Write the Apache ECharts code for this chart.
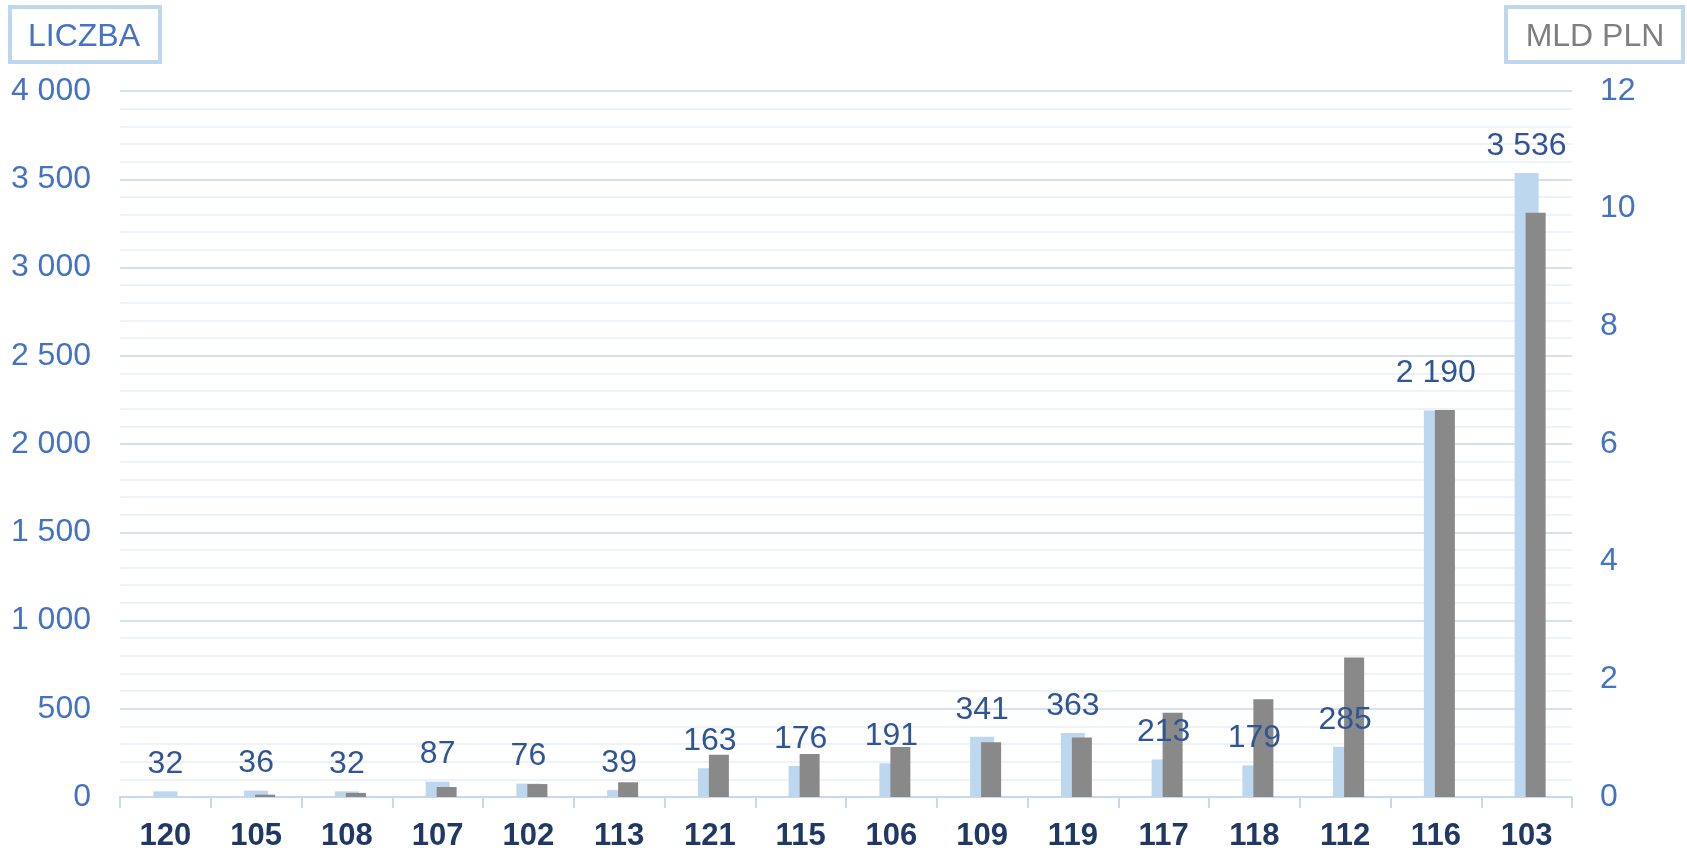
<!DOCTYPE html>
<html>
<head>
<meta charset="utf-8">
<script src="https://cdn.jsdelivr.net/npm/echarts@6/dist/echarts.min.js"></script>
<style>
  html, body { margin: 0; padding: 0; background: #fff; }
  #chart { width: 1687px; height: 848px; }
</style>
</head>
<body>
<div id="chart"></div>
<script>
// kategorie (kody)
const categories = ['120', '105', '108', '107', '102', '113', '121', '115', '106', '109', '119', '117', '118', '112', '116', '103'];
// liczba - lewa os
const counts = [32, 36, 32, 87, 76, 39, 163, 176, 191, 341, 363, 213, 179, 285, 2190, 3536];
// mld pln - prawa os
const amounts = [0, 0.04, 0.07, 0.17, 0.22, 0.25, 0.72, 0.73, 0.85, 0.93, 1.01, 1.43, 1.66, 2.37, 6.58, 9.93];

const FONT = 'Liberation Sans, Arial, sans-serif';

function fmt(v) {
  return String(v).replace(/\B(?=(\d{3})+(?!\d))/g, ' ');
}

const chart = echarts.init(document.getElementById('chart'));

const option = {
  animation: false,
  textStyle: { fontFamily: FONT },
  grid: [
    { left: 120, top: 91, width: 1452, height: 706, outerBoundsMode: 'none', containLabel: false },
    // druga siatka przesunieta, zeby szare slupki byly obok jasnych
    { left: 129, top: 91, width: 1452, height: 706, outerBoundsMode: 'none', containLabel: false }
  ],
  xAxis: [
    {
      type: 'category',
      gridIndex: 0,
      data: categories,
      axisLine: { lineStyle: { color: '#c9d8ef', width: 2 } },
      axisTick: { show: true, length: 11, lineStyle: { color: '#c9d8ef', width: 2 } },
      axisLabel: { color: '#1f3864', fontSize: 31, fontWeight: 'bold', fontFamily: FONT, margin: 24 }
    },
    {
      type: 'category',
      gridIndex: 1,
      data: categories,
      show: false
    }
  ],
  yAxis: [
    {
      type: 'value',
      gridIndex: 0,
      min: 0,
      max: 4000,
      interval: 500,
      axisLine: { show: false },
      axisTick: { show: false },
      axisLabel: { color: '#4472c4', fontSize: 32, fontFamily: FONT, margin: 29, formatter: fmt },
      splitLine: { lineStyle: { color: '#d5e0f2', width: 2 } },
      minorTick: { show: false, splitNumber: 5 },
      minorSplitLine: { show: true, lineStyle: { color: '#eef3fa', width: 2 } }
    },
    {
      type: 'value',
      gridIndex: 1,
      position: 'right',
      min: 0,
      max: 12,
      interval: 2,
      axisLine: { show: false },
      axisTick: { show: false },
      splitLine: { show: false },
      axisLabel: { color: '#4472c4', fontSize: 32, fontFamily: FONT, margin: 19 }
    }
  ],
  series: [
    {
      name: 'LICZBA',
      type: 'bar',
      xAxisIndex: 0,
      yAxisIndex: 0,
      barWidth: 24,
      itemStyle: { color: '#bdd7ee' },
      label: {
        show: true,
        position: 'top',
        distance: 11,
        color: '#2f5597',
        fontSize: 32,
        fontFamily: FONT,
        formatter: p => fmt(p.value)
      },
      data: counts.map((v, i) => i === 14 ? { value: v, label: { distance: 21 } } : v)
    },
    {
      name: 'MLD PLN',
      type: 'bar',
      xAxisIndex: 1,
      yAxisIndex: 1,
      barWidth: 20,
      itemStyle: { color: '#898989' },
      data: amounts
    }
  ],
  graphic: [
    {
      type: 'rect',
      shape: { x: 10, y: 7, width: 150, height: 55 },
      style: { fill: '#fff', stroke: '#bdd7ee', lineWidth: 4 }
    },
    {
      type: 'text',
      x: 84, y: 37,
      style: { text: 'LICZBA', fill: '#4472c4', font: '32px ' + FONT, align: 'center', verticalAlign: 'middle' }
    },
    {
      type: 'rect',
      shape: { x: 1506, y: 7, width: 177, height: 55 },
      style: { fill: '#fff', stroke: '#bdd7ee', lineWidth: 4 }
    },
    {
      type: 'text',
      x: 1595, y: 37,
      style: { text: 'MLD PLN', fill: '#7f7f7f', font: '32px ' + FONT, align: 'center', verticalAlign: 'middle' }
    }
  ]
};

chart.setOption(option);
</script>
</body>
</html>
